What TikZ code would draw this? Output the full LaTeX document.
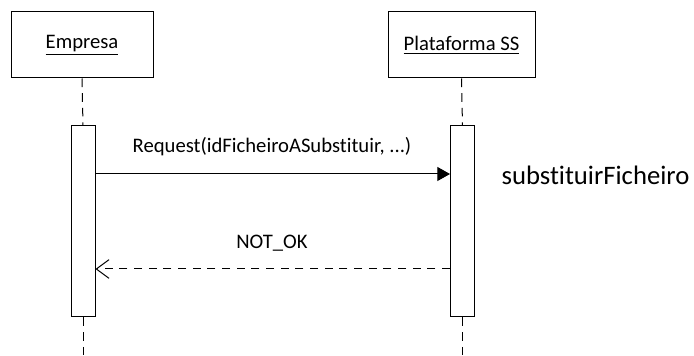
\documentclass[tikz,border=0pt]{standalone}
\usepackage{fontspec}
\setmainfont[Ligatures=NoCommon]{Carlito}
\usetikzlibrary{arrows.meta}

\tikzset{
  actor/.style={draw, line width=0.75pt, minimum height=49.5pt, inner sep=0pt,
    font=\fontsize{15.5}{18}\selectfont},
  activation/.style={draw, fill=white, line width=0.75pt, minimum width=18pt,
    minimum height=143.25pt, inner sep=0pt},
  lifeline/.style={line width=0.75pt, dash pattern=on 6.5pt off 4.5pt},
  call/.style={line width=0.75pt, -{Triangle[length=9.5pt,width=10.5pt]}},
  reply/.style={line width=0.75pt, dash pattern=on 6pt off 5pt,
    -{Straight Barb[length=9.5pt,width=14pt]}},
  msglabel/.style={font=\fontsize{15.5}{18}\selectfont, inner sep=0pt}
}

\begin{document}
\begin{tikzpicture}[x=0.75pt,y=-0.75pt]
  \useasboundingbox (0,0) rectangle (694,356);

  \node[actor, minimum width=106.5pt] (empresa) at (82,45) {\underline{Empresa}};
  \node[actor, minimum width=110.25pt] (plataforma) at (461.5,45) {\underline{Plataforma SS}};

  \node[activation] (actEmpresa) at (83,221.5) {};
  \node[activation] (actPlataforma) at (462.5,221.5) {};

  \coordinate (endEmpresa) at (83,356);
  \coordinate (endPlataforma) at (462.5,356);
  \coordinate (reqY) at (0,174);
  \coordinate (repY) at (0,269);

  % lifelines
  \draw[lifeline] (empresa.south) -- (actEmpresa.north);
  \draw[lifeline] (actEmpresa.south) -- (endEmpresa);
  \draw[lifeline] (plataforma.south) -- (actPlataforma.north);
  \draw[lifeline] (actPlataforma.south) -- (endPlataforma);

  % messages
  \draw[call] (actEmpresa.east |- reqY) -- (actPlataforma.west |- reqY);
  \node[msglabel] (reqLabel) at (272,147) {Request(idFicheiroASubstituir, ...)};
  \draw[reply] (actPlataforma.west |- repY) -- (actEmpresa.east |- repY);
  \node[msglabel] (repLabel) at (272,243) {NOT\_OK};

  \node[font=\fontsize{20}{24}\selectfont, inner sep=0pt] (operacao) at (595.5,175) {substituirFicheiro};
\end{tikzpicture}
\end{document}
